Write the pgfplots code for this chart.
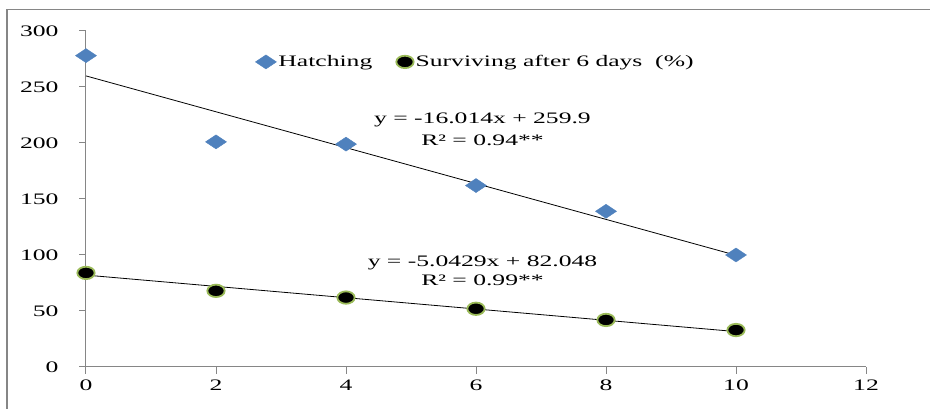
\documentclass[border=0pt]{standalone}
\usepackage{fontspec}
\setmainfont{Liberation Serif}[FakeStretch=1.6]
\usepackage{pgfplots}
\pgfplotsset{compat=1.18}
\definecolor{hblue}{HTML}{4F81BD}
\definecolor{sgreen}{HTML}{9BBB59}
\definecolor{axgrey}{HTML}{868686}
\begin{document}
\fontsize{16}{19}\selectfont
\begin{tikzpicture}
\useasboundingbox (0pt,0pt) rectangle (930pt,409pt);
\draw[axgrey, line width=1.5pt] (7pt,-10pt) -- (7pt,399.5pt) -- (940pt,399.5pt);
\begin{axis}[
  at={(86pt,42pt)}, anchor=south west,
  scale only axis, width=780pt, height=336pt,
  xmin=0, xmax=12, ymin=0, ymax=300,
  xtick={0,2,...,12}, ytick={0,50,...,300},
  axis x line*=bottom, axis y line*=left,
  axis line style={axgrey, line width=1pt, -},
  tick style={axgrey, line width=1pt},
  tick align=outside, major tick length=7pt,
  yticklabel style={anchor=east, xshift=-15pt},
  /pgf/number format/assume math mode=true,
  clip=false,
  legend columns=2,
  legend style={draw=none, fill=none, at={(0.217,0.908)}, anchor=west, inner sep=0pt,
    /tikz/every even column/.append style={column sep=22pt}},
]
\addplot[only marks, mark=diamond*, mark size=7pt, mark options={xscale=2, fill=hblue, draw=hblue}]
  coordinates {(0,278) (2,201) (4,199) (6,162) (8,139) (10,100)};
\addlegendentry{Hatching}
\addplot[black, line width=0.8pt, forget plot] coordinates {(0,259.9) (10,99.76)};
\addplot[black, line width=0.8pt, forget plot] coordinates {(0,82.048) (10,31.619)};
\addplot[only marks, mark=*, mark size=6.2pt, mark options={xscale=1.4, fill=black, draw=sgreen, line width=1.8pt}]
  coordinates {(0,84) (2,68) (4,62) (6,52) (8,42) (10,33)};
\addlegendentry{Surviving after 6 days~~(\%)}
\node at (axis cs:6.1,220.5) {y = -16.014x + 259.9};
\node at (axis cs:6.1,202.7) {R² = 0.94**};
\node at (axis cs:6.1,92.9) {y = -5.0429x + 82.048};
\node at (axis cs:6.1,77.7) {R² = 0.99**};
\end{axis}
\end{tikzpicture}
\end{document}
